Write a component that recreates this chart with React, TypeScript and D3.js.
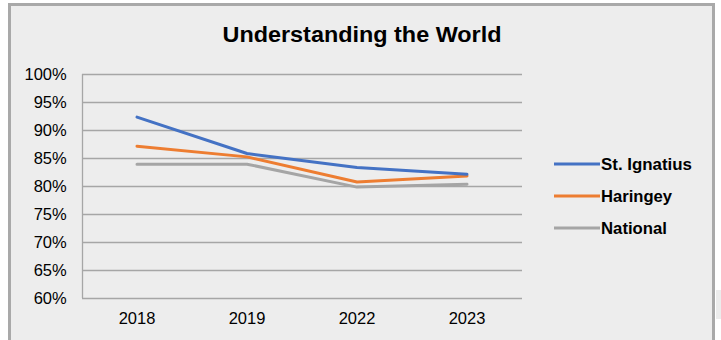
import React from "react";
import * as d3 from "d3";

const categories = ["2018", "2019", "2022", "2023"];
const seriesNames = ["St. Ignatius", "Haringey", "National"];
const stIgnatius = [92.3, 85.8, 83.3, 82.1];
const haringey = [87.1, 85.2, 80.7, 81.8];
const national = [83.9, 83.9, 79.8, 80.3];
const yTicks = [60, 65, 70, 75, 80, 85, 90, 95, 100];
const colors = ["#4472C4", "#ED7D31", "#A5A5A5"];

const W = 721;
const H = 340;
const plot = { left: 82, right: 522, top: 74, bottom: 298 };
const FONT = "'Liberation Sans', Arial, Helvetica, sans-serif";
const legendTextLen = [91, 71, 66];

export default function App() {
  const x = d3
    .scaleBand<string>()
    .domain(categories)
    .range([plot.left, plot.right]);
  const y = d3.scaleLinear().domain([60, 100]).range([plot.bottom, plot.top]);
  const line = d3
    .line<number>()
    .x((_, i) => (x(categories[i]) as number) + x.bandwidth() / 2)
    .y((d) => y(d));
  const data = [stIgnatius, haringey, national];
  const legendY = [164, 196, 228];

  return (
    <svg
      width={W}
      height={H}
      style={{ position: "absolute", left: 0, top: 0 }}
      fontFamily={FONT}
    >
      <rect x={0} y={0} width={W} height={H} fill="#ffffff" />
      <rect x={716} y={290} width={5} height={29} fill="#ececec" />
      <rect
        x={9.5}
        y={4.5}
        width={704}
        height={340}
        fill="#EDEDED"
        stroke="#A9A9A9"
        strokeWidth={3}
      />
      <text
        x={362}
        y={42.3}
        textAnchor="middle"
        fontSize={22.5}
        fontWeight="bold"
        fill="#000"
        textLength={279}
        lengthAdjust="spacingAndGlyphs"
      >
        Understanding the World
      </text>
      {yTicks.map((t) => (
        <g key={t}>
          <line
            x1={plot.left}
            x2={plot.right}
            y1={Math.round(y(t)) + 0.5}
            y2={Math.round(y(t)) + 0.5}
            stroke="#A6A6A6"
            strokeWidth={1.3}
          />
          <text
            x={66.7}
            y={y(t) + 6}
            textAnchor="end"
            fontSize={16.5}
            fill="#000"
          >
            {t}%
          </text>
        </g>
      ))}
      <line
        x1={plot.left + 0.5}
        x2={plot.left + 0.5}
        y1={plot.top}
        y2={plot.bottom}
        stroke="#A6A6A6"
        strokeWidth={1.3}
      />
      {categories.map((c) => (
        <text
          key={c}
          x={(x(c) as number) + x.bandwidth() / 2}
          y={324.3}
          textAnchor="middle"
          fontSize={16.5}
          fill="#000"
        >
          {c}
        </text>
      ))}
      {data
        .map((d, i) => ({ d, i }))
        .reverse()
        .map(({ d, i }) => (
          <path
            key={i}
            d={line(d) as string}
            fill="none"
            stroke={colors[i]}
            strokeWidth={3}
            strokeLinejoin="round"
            strokeLinecap="round"
          />
        ))}
      {seriesNames.map((s, i) => (
        <g key={s}>
          <line
            x1={554}
            x2={600}
            y1={legendY[i]}
            y2={legendY[i]}
            stroke={colors[i]}
            strokeWidth={3}
          />
          <text
            x={601}
            y={legendY[i] + 5.8}
            fontSize={16.5}
            fontWeight="bold"
            fill="#000"
            textLength={legendTextLen[i]}
            lengthAdjust="spacingAndGlyphs"
          >
            {s}
          </text>
        </g>
      ))}
    </svg>
  );
}
